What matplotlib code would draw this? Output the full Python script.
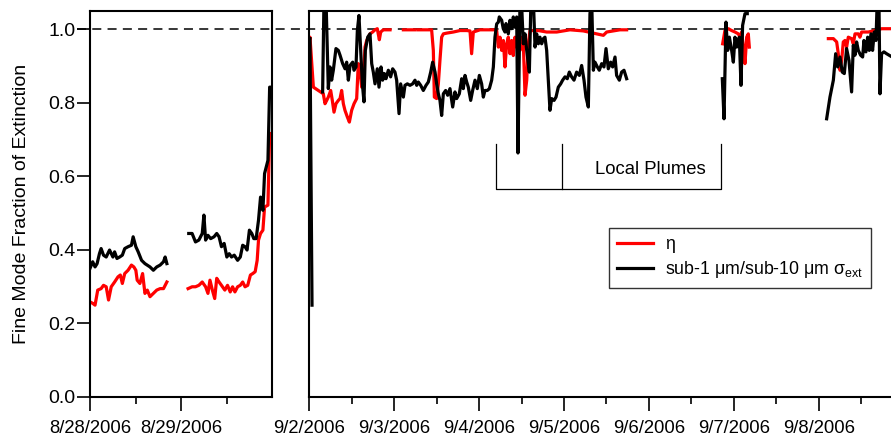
import numpy as np
import matplotlib
matplotlib.use("Agg")
import matplotlib.pyplot as plt
import matplotlib.dates as mdates
from matplotlib.lines import Line2D
from datetime import datetime

plt.rcParams['font.family'] = ['Liberation Sans', 'DejaVu Sans']
plt.rcParams['mathtext.fontset'] = 'custom'
plt.rcParams['mathtext.rm'] = 'Liberation Sans'
plt.rcParams['lines.scale_dashes'] = False

nan = np.nan

# --- left panel: hours since 8/28/2006 00:00 ---
left_black_h = [0, 0.71, 1.33, 1.87, 2.49, 2.93, 3.56, 4.27, 5.16, 6.04, 6.49, 7.11, 7.82, 8.53,
                9.16, 10.04, 10.93, 11.38, 12.09, 12.71, 13.6, 14.49, 15.82, 16.71, 17.6, 18.49,
                19.38, 19.82, 20.27, nan,
                26.04, 26.93, 27.82, 28.71, 29.6, 30.04, 30.49, 31.11, 31.82, 32.71, 33.42, 34.04,
                34.67, 35.38, 36.09, 36.71, 37.33, 38.04, 38.93, 39.64, 40.27, 40.89, 41.42, 42.04,
                42.67, 43.2, 43.82, 44.44, 44.98, 45.6, 46.04, 46.93, 47.38, 47.64]
left_black_v = [0.349, 0.367, 0.353, 0.362, 0.389, 0.403, 0.385, 0.380, 0.399, 0.380, 0.394, 0.376,
                0.380, 0.385, 0.403, 0.408, 0.412, 0.435, 0.408, 0.394, 0.371, 0.362, 0.353, 0.344,
                0.353, 0.358, 0.367, 0.380, 0.362, nan,
                0.444, 0.444, 0.421, 0.426, 0.444, 0.494, 0.426, 0.439, 0.430, 0.435, 0.444, 0.435,
                0.408, 0.417, 0.380, 0.389, 0.380, 0.385, 0.371, 0.380, 0.412, 0.408, 0.399, 0.453,
                0.444, 0.430, 0.430, 0.480, 0.543, 0.507, 0.607, 0.643, 0.842, 0.842]

left_red_h = [0, 0.71, 1.33, 2.04, 2.93, 3.56, 4.27, 4.89, 5.6, 6.49, 7.38, 8.0, 8.53, 9.16, 10.04,
              10.93, 11.56, 12.09, 12.44, 13.16, 13.87, 14.49, 15.11, 15.82, 16.71, 17.6, 18.49,
              19.38, 20.27, nan,
              25.87, 26.93, 27.82, 28.71, 29.6, 30.49, 31.11, 31.64, 32.27, 32.89, 33.42, 34.04,
              34.67, 35.56, 36.27, 36.98, 37.6, 38.22, 38.93, 39.64, 40.27, 40.89, 41.6, 42.31,
              42.93, 43.56, 44.09, 44.44, 44.98, 45.6, 46.04, 46.93, 47.38]
left_red_v = [0.258, 0.254, 0.249, 0.290, 0.294, 0.303, 0.299, 0.263, 0.299, 0.312, 0.326, 0.331,
              0.308, 0.335, 0.344, 0.358, 0.353, 0.344, 0.317, 0.308, 0.335, 0.281, 0.290, 0.272,
              0.281, 0.290, 0.294, 0.294, 0.312, nan,
              0.294, 0.299, 0.299, 0.303, 0.312, 0.299, 0.281, 0.317, 0.290, 0.267, 0.322, 0.312,
              0.303, 0.290, 0.303, 0.285, 0.299, 0.285, 0.299, 0.303, 0.312, 0.299, 0.303, 0.331,
              0.335, 0.340, 0.371, 0.426, 0.444, 0.453, 0.516, 0.521, 0.716]

# --- right panel: days since 9/2/2006 00:00 ---
right_black_d = [0.008, 0.032, nan, 0.157, 0.173, 0.197, 0.224, 0.244, 0.263, 0.283, 0.314, 0.342, 0.362,
                 0.393, 0.421, 0.440, 0.460, 0.480, 0.511, 0.527, 0.550, 0.566, 0.585, 0.605, 0.625,
                 0.644, 0.660, 0.688, 0.715, 0.735, 0.754, 0.774, 0.801, 0.821, 0.845, 0.864, 0.884,
                 0.903, 0.931, 0.958, 0.982, 1.009, 1.029, 1.057, 1.076, 1.108, 1.127, 1.155, 1.186,
                 1.217, 1.245, 1.265, 1.284, 1.312, 1.343, 1.375, 1.402, 1.430, 1.453, 1.481, 1.500,
                 1.520, 1.539, 1.559, 1.579, 1.606, 1.630, 1.657, 1.689, 1.716, 1.736, 1.767, 1.795,
                 1.814, 1.834, 1.854, 1.873, 1.901, 1.924, 1.952, 1.979, 2.003, 2.030, 2.050, 2.069,
                 2.097, 2.121, 2.148, 2.168, 2.187, 2.207, 2.227, 2.238, 2.266, 2.285, 2.305, 2.317,
                 2.344, 2.364, 2.384, 2.403, 2.423, 2.443, 2.458, 2.482, 2.502, 2.521, 2.541, 2.561,
                 2.592, 2.611, 2.639, 2.659, 2.678, 2.698, 2.717, 2.737, 2.757, 2.776, 2.796, 2.816,
                 2.835, 2.855, 2.883, 2.906, 2.933, 2.961, 2.984, 3.012, 3.039, 3.063, 3.090, 3.118,
                 3.149, 3.181, 3.208, 3.236, 3.259, 3.287, 3.306, 3.326, 3.346, 3.365, 3.393, 3.416,
                 3.444, 3.471, 3.495, 3.522, 3.550, 3.573, 3.601, 3.620, 3.652, 3.679, 3.707, 3.738, nan,
                 4.865, 4.885, 4.908, 4.928, 4.948, 4.975, 4.995, 5.014, 5.034, 5.065, 5.085, 5.104,
                 5.132, 5.159, nan,
                 6.094, 6.133, 6.173, 6.200, 6.224, 6.251, 6.278, 6.302, 6.329, 6.357, 6.388, 6.408,
                 6.428, 6.447, 6.467, 6.494, 6.518, 6.533, 6.557, 6.577, 6.596, 6.616, 6.635, 6.655,
                 6.675, 6.690, 6.710, 6.722, 6.741, 6.769, 6.800, 6.828, 6.851]
right_black_v = [0.974, 0.249, nan, 0.829, 1.08, 1.08, 0.838, 0.897, 0.861, 0.888, 0.947, 0.942, 0.929,
                 0.906, 0.892, 0.910, 0.861, 0.901, 0.910, 0.888, 0.897, 0.996, 1.037, 0.942, 0.851,
                 0.802, 0.942, 0.978, 0.987, 0.906, 0.883, 0.851, 0.892, 0.842, 0.897, 0.861, 0.879,
                 0.865, 0.888, 0.870, 0.892, 0.883, 0.861, 0.770, 0.851, 0.815, 0.847, 0.851, 0.847,
                 0.851, 0.861, 0.847, 0.856, 0.847, 0.833, 0.847, 0.856, 0.883, 0.910, 0.883, 0.851,
                 0.824, 0.806, 0.765, 0.824, 0.833, 0.820, 0.838, 0.788, 0.829, 0.811, 0.824, 0.865,
                 0.838, 0.874, 0.856, 0.842, 0.806, 0.833, 0.861, 0.838, 0.874, 0.851, 0.815, 0.833,
                 0.833, 0.838, 0.861, 0.897, 0.978, 1.014, 1.019, 1.033, 1.024, 1.001, 0.992, 1.015,
                 0.987, 1.024, 1.001, 1.033, 1.005, 1.033, 0.663, 1.08, 1.06, 0.960, 0.987, 0.942,
                 0.883, 1.08, 1.08, 0.951, 0.987, 0.960, 0.978, 0.960, 0.974, 0.978, 0.942, 0.861,
                 0.779, 0.811, 0.806, 0.815, 0.842, 0.851, 0.861, 0.870, 0.865, 0.883, 0.870, 0.861,
                 0.883, 0.874, 0.901, 0.861, 0.815, 0.788, 1.042, 1.08, 0.888, 0.910, 0.897, 0.888,
                 0.906, 0.897, 0.947, 0.892, 0.910, 0.897, 0.924, 0.874, 0.861, 0.883, 0.888, 0.865, nan,
                 0.865, 0.756, 1.019, 0.942, 0.978, 0.942, 0.910, 0.978, 0.951, 0.978, 0.847, 1.010,
                 1.042, 1.042, nan,
                 0.756, 0.815, 0.861, 0.933, 0.897, 0.924, 0.883, 0.879, 0.947, 0.915, 0.829, 0.956,
                 0.929, 0.965, 0.942, 0.929, 0.924, 0.969, 0.938, 0.978, 0.942, 0.987, 0.942, 0.992,
                 0.969, 1.08, 1.08, 0.824, 0.933, 0.938, 0.933, 0.929, 0.926]

right_red_d = [0.0, 0.008, 0.048, 0.165, 0.185, 0.205, 0.224, 0.252, 0.271, 0.291, 0.314, 0.342,
               0.362, 0.381, 0.401, 0.420, 0.448, 0.472, 0.499, 0.527, 0.558, 0.577, 0.597, 0.617,
               0.636, 0.656, 0.676, 0.715, 0.746, 0.774, 0.801, 0.825, 0.841, 0.872, 0.951, nan,
               1.108, 1.245, nan,
               1.284, 1.441, 1.461, 1.473, 1.500, 1.520, 1.539, 1.559, 1.579, 1.618, 1.697, 1.775,
               1.854, 1.893, 1.912, 1.932, 2.011, 2.089, 2.168, 2.187, 2.207, 2.227, 2.246, 2.266,
               2.286, 2.305, 2.325, 2.344, 2.364, 2.384, 2.403, 2.423, 2.443, 2.462, 2.482, 2.502,
               2.521, 2.541, 2.561, 2.580, 2.600, 2.698, 2.796, 2.914, 3.071, 3.228, 3.385, 3.464,
               3.503, 3.659, 3.738, nan,
               4.869, 4.896, 4.936, 4.975, 5.014, 5.054, 5.073, 5.093, 5.112, 5.132, 5.152, 5.171,
               5.183, nan,
               6.114, 6.173, 6.212, 6.231, 6.251, 6.271, 6.290, 6.310, 6.329, 6.349, 6.388, 6.408,
               6.428, 6.467, 6.486, 6.506, 6.584, 6.663, 6.741, 6.851]
right_red_v = [0.969, 0.978, 0.842, 0.824, 0.797, 0.806, 0.815, 0.833, 0.806, 0.774, 0.797, 0.806,
               0.811, 0.833, 0.797, 0.779, 0.761, 0.747, 0.779, 0.797, 0.811, 0.906, 0.888, 0.842,
               0.851, 0.951, 0.969, 0.987, 0.992, 0.998, 1.001, 0.971, 0.992, 0.998, 0.998, nan,
               0.998, 0.998, nan,
               0.998, 0.998, 0.942, 0.815, 0.811, 0.851, 0.915, 0.978, 0.987, 0.989, 0.992, 0.996,
               0.996, 0.995, 0.933, 0.992, 0.998, 0.998, 0.998, 0.998, 0.996, 0.951, 0.978, 0.942,
               0.969, 0.897, 0.960, 0.978, 0.933, 0.969, 0.928, 0.978, 0.951, 0.987, 0.942, 0.978,
               0.960, 0.820, 0.861, 0.960, 0.996, 0.996, 0.992, 0.992, 0.998, 0.995, 0.987, 0.983,
               0.992, 0.998, 0.998, nan,
               0.960, 0.996, 1.001, 0.996, 0.992, 0.987, 0.978, 0.992, 0.951, 0.906, 0.978, 0.987,
               0.951, nan,
               0.974, 0.974, 0.965, 0.933, 0.888, 0.915, 0.965, 0.969, 0.951, 0.978, 0.974, 0.960,
               0.987, 0.987, 0.978, 0.992, 0.992, 0.996, 1.001, 1.001]

left_start = mdates.date2num(datetime(2006, 8, 28))
right_start = mdates.date2num(datetime(2006, 9, 2))
fs = 13.3


def date_label(x, pos):
    d = mdates.num2date(x)
    return f"{d.month}/{d.day}/{d.year}"


fig = plt.figure(figsize=(8.91, 4.37), dpi=100)
ax1 = fig.add_axes([90 / 891, 40.3 / 437, 182 / 891, 386 / 437])
ax2 = fig.add_axes([309.3 / 891, 40.3 / 437, 1 - 309.3 / 891, 386 / 437])

for ax in (ax1, ax2):
    ax.set_facecolor('none')
    ax.set_ylim(0, 1.05)
    for s in ax.spines.values():
        s.set_linewidth(1.5)
    ax.xaxis.set_major_formatter(plt.FuncFormatter(date_label))
    ax.xaxis.set_minor_locator(mdates.HourLocator(byhour=12))
    ax.tick_params(axis='x', which='major', length=10, width=1.2, labelsize=fs, pad=7, direction='out')
    ax.tick_params(axis='x', which='minor', length=5, width=1.2, direction='out')

# left panel
ax1.plot(left_start + np.array(left_red_h) / 24, left_red_v, color='#ff0000', lw=2.3)
ax1.plot(left_start + np.array(left_black_h) / 24, left_black_v, color='black', lw=2.3)
ax1.set_xlim(left_start, left_start + 2)
ax1.set_xticks([left_start, left_start + 1])
ax1.set_yticks(np.arange(0, 1.01, 0.2))
ax1.yaxis.set_major_formatter(plt.FuncFormatter(lambda v, p: f"{v:.1f}"))
ax1.tick_params(axis='y', length=9.5, width=1.2, labelsize=14, pad=1)
ax1.set_ylabel('Fine Mode Fraction of Extinction', fontsize=14, labelpad=13)

# right panel
ax2.plot(right_start + np.array(right_red_d), right_red_v, color='#ff0000', lw=2.3, label='η')
ax2.plot(right_start + np.array(right_black_d), right_black_v, color='black', lw=2.3,
         label='sub-1 μm/sub-10 μm σ$_{\\rm ext}$')
ax2.set_xlim(right_start, right_start + 6.852)
ax2.xaxis.set_major_locator(mdates.DayLocator())
ax2.spines['right'].set_visible(False)
ax2.set_yticks([])

# local plumes bracket
x0, xm, x1 = right_start + 2.196, right_start + 2.973, right_start + 4.846
yb, yt = 0.564, 0.687
ax2.plot([x0, x0, x1, x1], [yt, yb, yb, yt], color='black', lw=0.9)
ax2.plot([xm, xm], [yb, yt], color='black', lw=0.9)
ax2.text(right_start + 4.015, 0.619, 'Local Plumes', fontsize=fs, ha='center', va='center')

leg = ax2.legend(loc='upper left', bbox_to_anchor=(609 / 891, 1 - 228 / 437),
                 bbox_transform=fig.transFigure, fontsize=12.8, frameon=True, fancybox=False,
                 edgecolor='black', handlelength=2.0, handletextpad=0.7, borderpad=0.45,
                 labelspacing=0.35, borderaxespad=0)
leg.get_frame().set_linewidth(1.0)

# dashed line at 1.0 across both panels
y1 = (40.3 + 368 * 1.0) / 437
fig.add_artist(Line2D([77 / 891, 1.0], [y1, y1], transform=fig.transFigure, color='black',
                      lw=1.1, dashes=(6.5, 4.5), zorder=-1))

fig.savefig('out.png', dpi=100)
